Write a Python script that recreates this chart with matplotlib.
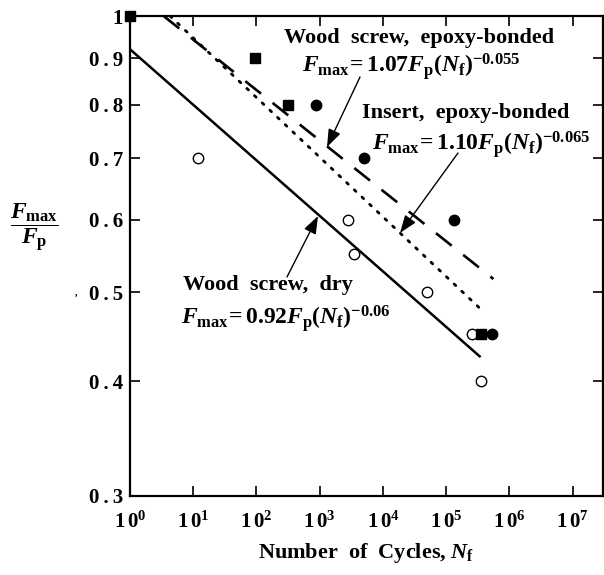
import matplotlib
matplotlib.use('Agg')
import matplotlib.pyplot as plt
from matplotlib.ticker import NullLocator, NullFormatter

plt.rcParams['font.family'] = ['Liberation Serif', 'DejaVu Serif']
plt.rcParams['font.weight'] = 'bold'
plt.rcParams['mathtext.fontset'] = 'custom'
plt.rcParams['mathtext.rm'] = 'Liberation Serif:bold'
plt.rcParams['mathtext.it'] = 'Liberation Serif:italic:bold'
plt.rcParams['mathtext.bf'] = 'Liberation Serif:bold'

# ---- data ----
dry_N = [12, 2800, 3500, 50000, 2.6e5, 3.5e5]            # open circles: wood screw, dry
dry_F = [0.70, 0.60, 0.55, 0.50, 0.45, 0.40]
sq_N = [1, 95, 320, 3.6e5]                                # filled squares
sq_F = [1.0, 0.90, 0.80, 0.45]
ci_N = [870, 5000, 1.35e5, 5.4e5]                         # filled circles
ci_F = [0.80, 0.70, 0.60, 0.45]

dry_line_N = [1, 3.5e5]          # F = 0.92 Fp N^-0.06
dry_line_F = [0.92, 0.425]
ws_line_N = [3.4, 5.6e5]         # F = 1.07 Fp N^-0.055
ws_line_F = [1.0, 0.517]
ins_line_N = [4.3, 3.8e5]        # F = 1.10 Fp N^-0.065
ins_line_F = [1.0, 0.477]

x_ticks = [1, 10, 100, 1e3, 1e4, 1e5, 1e6, 1e7]
x_labels = [r'$\mathrm{1\,0^{%d}}$' % i for i in range(8)]
y_ticks = [0.3, 0.4, 0.5, 0.6, 0.7, 0.8, 0.9, 1.0]
y_labels = ['0\u2009.\u20093', '0\u2009.\u20094', '0\u2009.\u20095', '0\u2009.\u20096',
            '0\u2009.\u20097', '0\u2009.\u20098', '0\u2009.\u20099', '1']

W, H = 604, 575
fig = plt.figure(figsize=(W / 100, H / 100), dpi=100)
ax = fig.add_axes([130 / W, 1 - 496 / H, (603 - 130) / W, (496 - 16) / H])
ax.set_xscale('log')
ax.set_yscale('log')
ax.set_xlim(1, 10 ** 7.48)
ax.set_ylim(0.3, 1.0)

ax.plot(dry_line_N, dry_line_F, color='black', lw=1.8, solid_capstyle='butt')
ax.plot(ws_line_N, ws_line_F, color='black', lw=1.9, linestyle=(0, (7.6, 5.6)))
ax.plot(ins_line_N, ins_line_F, color='black', lw=2.0, linestyle=(0, (0.8, 3.0)),
        dash_capstyle='round')

ax.plot(dry_N, dry_F, 'o', ms=7.5, mfc='white', mec='black', mew=1.0, clip_on=False, zorder=5)
ax.plot(sq_N, sq_F, 's', ms=7.5, mfc='black', mec='black', clip_on=False, zorder=5)
ax.plot(ci_N, ci_F, 'o', ms=7.5, mfc='black', mec='black', clip_on=False, zorder=5)

ax.xaxis.set_major_locator(plt.FixedLocator(x_ticks))
ax.xaxis.set_minor_locator(NullLocator())
ax.xaxis.set_minor_formatter(NullFormatter())
ax.set_xticks(x_ticks)
ax.set_xticklabels(x_labels, fontsize=15)
ax.yaxis.set_minor_locator(NullLocator())
ax.yaxis.set_minor_formatter(NullFormatter())
ax.set_yticks(y_ticks)
ax.set_yticklabels(y_labels, fontsize=15, fontweight='bold')

ax.tick_params(which='major', direction='in', length=7, width=1.2,
               top=True, right=True, pad=5)
ax.tick_params(axis='x', pad=11)
for s in ax.spines.values():
    s.set_linewidth(1.6)

def fp(x, y):
    return (x / W, 1 - y / H)

kw = dict(fontsize=16, fontweight='bold', ha='center', va='center')
ekw = dict(fontsize=17, ha='center', va='center')
fig.text(*fp(419, 38), 'Wood  screw,  epoxy-bonded', **kw)
fig.text(*fp(411, 67), r'$F_{\mathrm{max}}\!\mathrm{=1.07}F_{\mathrm{p}}(N_{\mathrm{f}})^{\mathrm{-0.055}}$', **ekw)
fig.text(*fp(466, 113), 'Insert,  epoxy-bonded', **kw)
fig.text(*fp(481, 144), r'$F_{\mathrm{max}}\!\mathrm{=1.10}F_{\mathrm{p}}(N_{\mathrm{f}})^{\mathrm{-0.065}}$', **ekw)
fig.text(*fp(183, 285), 'Wood  screw,  dry', fontsize=16, fontweight='bold', ha='left', va='center')
fig.text(*fp(181, 318), r'$F_{\mathrm{max}}\!\mathrm{=0.92}F_{\mathrm{p}}(N_{\mathrm{f}})^{\mathrm{-0.06}}$',
         fontsize=17, ha='left', va='center')

fig.text(*fp(34, 228), r'$\dfrac{F_{\mathrm{max}}}{F_{\mathrm{p}}}$', fontsize=17, ha='center', va='center')
fig.text(*fp(366, 553), r'Number  of  Cycles, $N_{\mathrm{f}}$', fontsize=16, fontweight='bold',
         ha='center', va='center')
fig.text(*fp(76, 293), ',', fontsize=7, ha='center', va='center')

apk = dict(arrowstyle='-|>,head_length=0.6,head_width=0.22', lw=1.0, color='black',
           mutation_scale=18, shrinkA=0, shrinkB=0)
def arrow(x0, y0, x1, y1):
    ax.annotate('', xy=(x1, H - y1), xytext=(x0, H - y0), xycoords='figure pixels',
                textcoords='figure pixels', arrowprops=apk)

arrow(360, 77, 327, 147)
arrow(458, 153, 400, 233)
arrow(287, 277, 318, 216)

fig.savefig('out.png', dpi=100)
